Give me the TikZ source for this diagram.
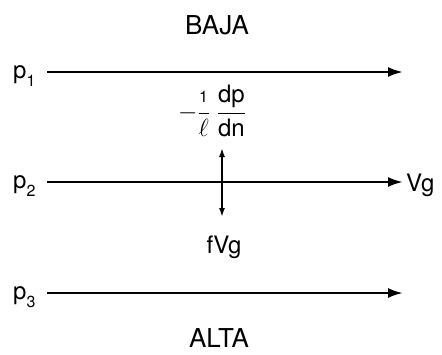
\documentclass[tikz,border=0pt]{standalone}
\usepackage{amsmath}
\usepackage{fontspec}
\setmainfont{TeX Gyre Heros}
\usetikzlibrary{arrows.meta}
\begin{document}
\begin{tikzpicture}[x=1pt, y=-1pt,
    lbl/.style={font=\fontsize{26}{28}\selectfont, inner sep=0pt},
    plbl/.style={font=\fontsize{24}{26}\selectfont, inner sep=0pt},
    flow/.style={line width=2.4pt, -{Latex[length=15pt,width=10pt]}}]
    \useasboundingbox (0,0) rectangle (442,354);
    \node[lbl] (baja) at (217,25) {BAJA};
    \node[lbl] (alta) at (219,338) {ALTA};
    % the three isobars, one row each
    \foreach \i/\y in {1/72,2/182,3/293}{
        \node[plbl, anchor=west] (p\i) at (13,\y+4) {p\raisebox{-0.35em}{\fontsize{16}{18}\selectfont\i}};
        \coordinate (a\i) at (47,\y);
        \coordinate (b\i) at (403,\y);
    }
    \draw[flow] (a1) -- (b1);
    \draw[flow] (a3) -- (b3);
    \node[plbl, anchor=west] (vg) at (406,185) {Vg};
    \draw[flow] (a2) -- (b2);
    % pressure force over Coriolis
    \node[inner sep=0pt] (force) at (212,111)
        {\fontsize{24}{26}\selectfont$\displaystyle -\frac{\text{\fontsize{16}{18}\selectfont 1}}{\ell}\;\frac{\text{dp}}{\text{dn}}$};
    \node[plbl] (fvg) at (224,247) {fVg};
    \coordinate (up) at (222,148);
    \coordinate (dn) at (222,217);
    \draw[line width=1.6pt, {Latex[length=9pt,width=6pt]}-{Latex[length=9pt,width=6pt]}] (up) -- (dn);
\end{tikzpicture}
\end{document}
